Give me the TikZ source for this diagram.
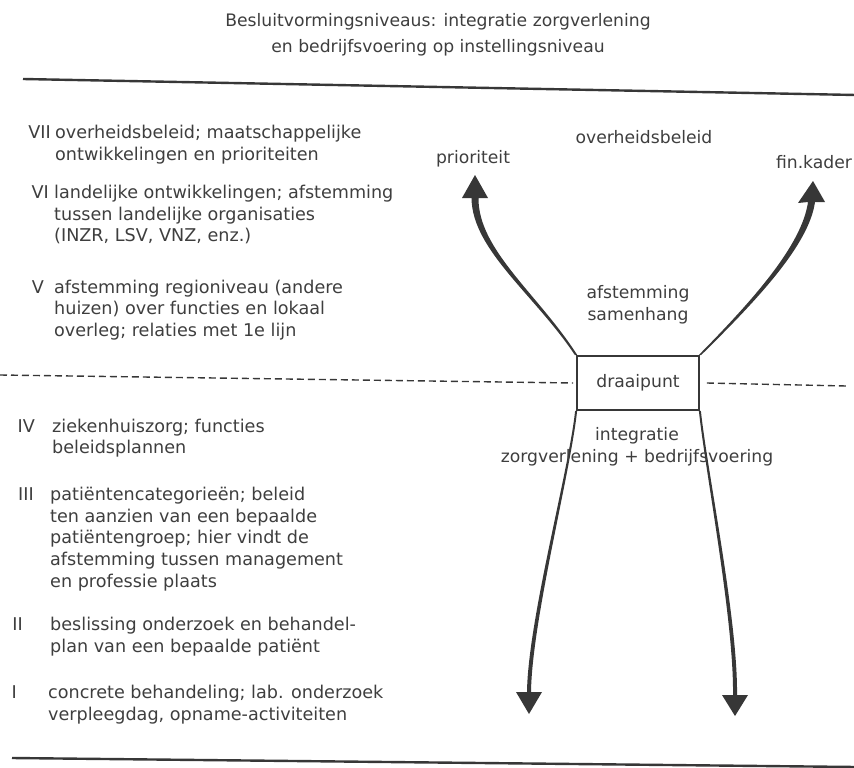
\documentclass[tikz,border=0pt]{standalone}
\usepackage{fontspec}
\setmainfont{DejaVu Sans}
\definecolor{ink}{RGB}{62,62,62}
\definecolor{ln}{RGB}{55,55,55}
\newcommand\mytxt[4]{\node[ltxt] (#1) at (#2,#3) {#4};}
\newcommand\mynum[4]{\node[ltxt, anchor=base east] (#1) at (#2,#3) {#4};}
\begin{document}
\begin{tikzpicture}[x=1pt,y=-1pt,
  txt/.style={font=\fontsize{17.2}{21.7}\selectfont, text=ink, inner sep=0pt, anchor=base west},
  ltxt/.style={txt, font=\fontsize{17.6}{21.7}\selectfont},
  ctxt/.style={txt, anchor=base},
  rule/.style={draw=ln, line width=2.4pt},
  dashrule/.style={draw=ln, line width=1.4pt, dash pattern=on 7pt off 4pt},
  boxst/.style={draw=ln, line width=1.8pt, minimum width=122pt, minimum height=54pt, inner sep=0pt, font=\fontsize{17.2}{21.7}\selectfont, text=ink},
  arr/.style={fill=ln}]
\useasboundingbox (0,0) rectangle (854,768);

% title
\node[ctxt] (title1) at (438,27) {Besluitvormingsniveaus: integratie zorgverlening};
\node[ctxt] (title2) at (438,53) {en bedrijfsvoering op instellingsniveau};

% rules
\coordinate (t1) at (23,79); \coordinate (t2) at (856,95);
\coordinate (b1) at (12,758); \coordinate (b2) at (856,767);
\draw[rule] (t1) -- (t2);
\draw[rule] (b1) -- (b2);

% pivot box
\node[boxst] (dp) at (638,383) {draaipunt};

% dashed divider
\coordinate (dl) at (0,375); \coordinate (dr) at (846,386);
\draw[dashrule] (dl) -- ([xshift=-3pt]dp.west);
\draw[dashrule] ([xshift=7pt]dp.east) -- (dr);

% arrow tips
\coordinate (ulT) at (475,175);
\coordinate (urT) at (813,181);
\coordinate (llT) at (529,714);
\coordinate (lrT) at (735,716);

% upper left arrow (tapered)
\fill[arr] ([xshift=-1.2pt]dp.north west) .. controls (535,295) and (472,250) .. (471.5,198)
  -- (462,198) -- (ulT) -- (488,198) -- (478.5,198)
  .. controls (478,250) and (539,295) .. ([xshift=1.2pt]dp.north west) -- cycle;
% upper right arrow (tapered)
\fill[arr] ([xshift=-1.2pt]dp.north east) .. controls (753,300) and (802,245) .. (808,202)
  -- (798,203) -- (urT) -- (825,202) -- (815,202)
  .. controls (809,245) and (757,300) .. ([xshift=1.2pt]dp.north east) -- cycle;
% lower left arrow
\fill[arr] ([xshift=-1pt]dp.south west) .. controls (569,470) and (528,620) .. (527,692)
  -- (516,692) -- (llT) -- (542,692) -- (531,692)
  .. controls (532,620) and (571,470) .. ([xshift=1pt]dp.south west) -- cycle;
% lower right arrow
\fill[arr] ([xshift=-1pt]dp.south east) .. controls (705,470) and (734,620) .. (733,695)
  -- (722,695) -- (lrT) -- (748,695) -- (737,695)
  .. controls (738,620) and (707,470) .. ([xshift=1pt]dp.south east) -- cycle;

% right-hand labels
\node[ctxt] (prio) at (473,163) {prioriteit};
\node[ctxt] (overh) at (644,143) {overheidsbeleid};
\node[ctxt] (fink) at (814,168) {fin.kader};
\node[ctxt] (afst) at (638,298) {afstemming};
\node[ctxt] (samh) at (638,320) {samenhang};
\node[ctxt] (integ) at (637,440) {integratie};
\node[ctxt] (zorgb) at (637,462) {zorgverlening + bedrijfsvoering};

% left-hand levels
\mynum{n7}{51}{138}{VII}
\mytxt{l7a}{55}{138}{overheidsbeleid; maatschappelijke}
\mytxt{l7b}{55}{160}{ontwikkelingen en prioriteiten}

\mynum{n6}{49}{198}{VI}
\mytxt{l6a}{54}{198}{landelijke ontwikkelingen; afstemming}
\mytxt{l6b}{54}{220}{tussen landelijke organisaties}
\mytxt{l6c}{54}{241}{(INZR, LSV, VNZ, enz.)}

\mynum{n5}{44}{293}{V}
\mytxt{l5a}{54}{293}{afstemming regioniveau (andere}
\mytxt{l5b}{54}{314}{huizen) over functies en lokaal}
\mytxt{l5c}{54}{336}{overleg; relaties met 1e lijn}

\mynum{n4}{35}{432}{IV}
\mytxt{l4a}{52}{432}{ziekenhuiszorg; functies}
\mytxt{l4b}{52}{453}{beleidsplannen}

\mynum{n3}{34}{500}{III}
\mytxt{l3a}{50}{500}{patiëntencategorieën; beleid}
\mytxt{l3b}{50}{522}{ten aanzien van een bepaalde}
\mytxt{l3c}{50}{543}{patiëntengroep; hier vindt de}
\mytxt{l3d}{50}{565}{afstemming tussen management}
\mytxt{l3e}{50}{587}{en professie plaats}

\mynum{n2}{23}{630}{II}
\mytxt{l2a}{50}{630}{beslissing onderzoek en behandel-}
\mytxt{l2b}{50}{652}{plan van een bepaalde patiënt}

\mynum{n1}{17}{698}{I}
\mytxt{l1a}{48}{698}{concrete behandeling; lab. onderzoek}
\mytxt{l1b}{48}{720}{verpleegdag, opname-activiteiten}
\end{tikzpicture}
\end{document}
